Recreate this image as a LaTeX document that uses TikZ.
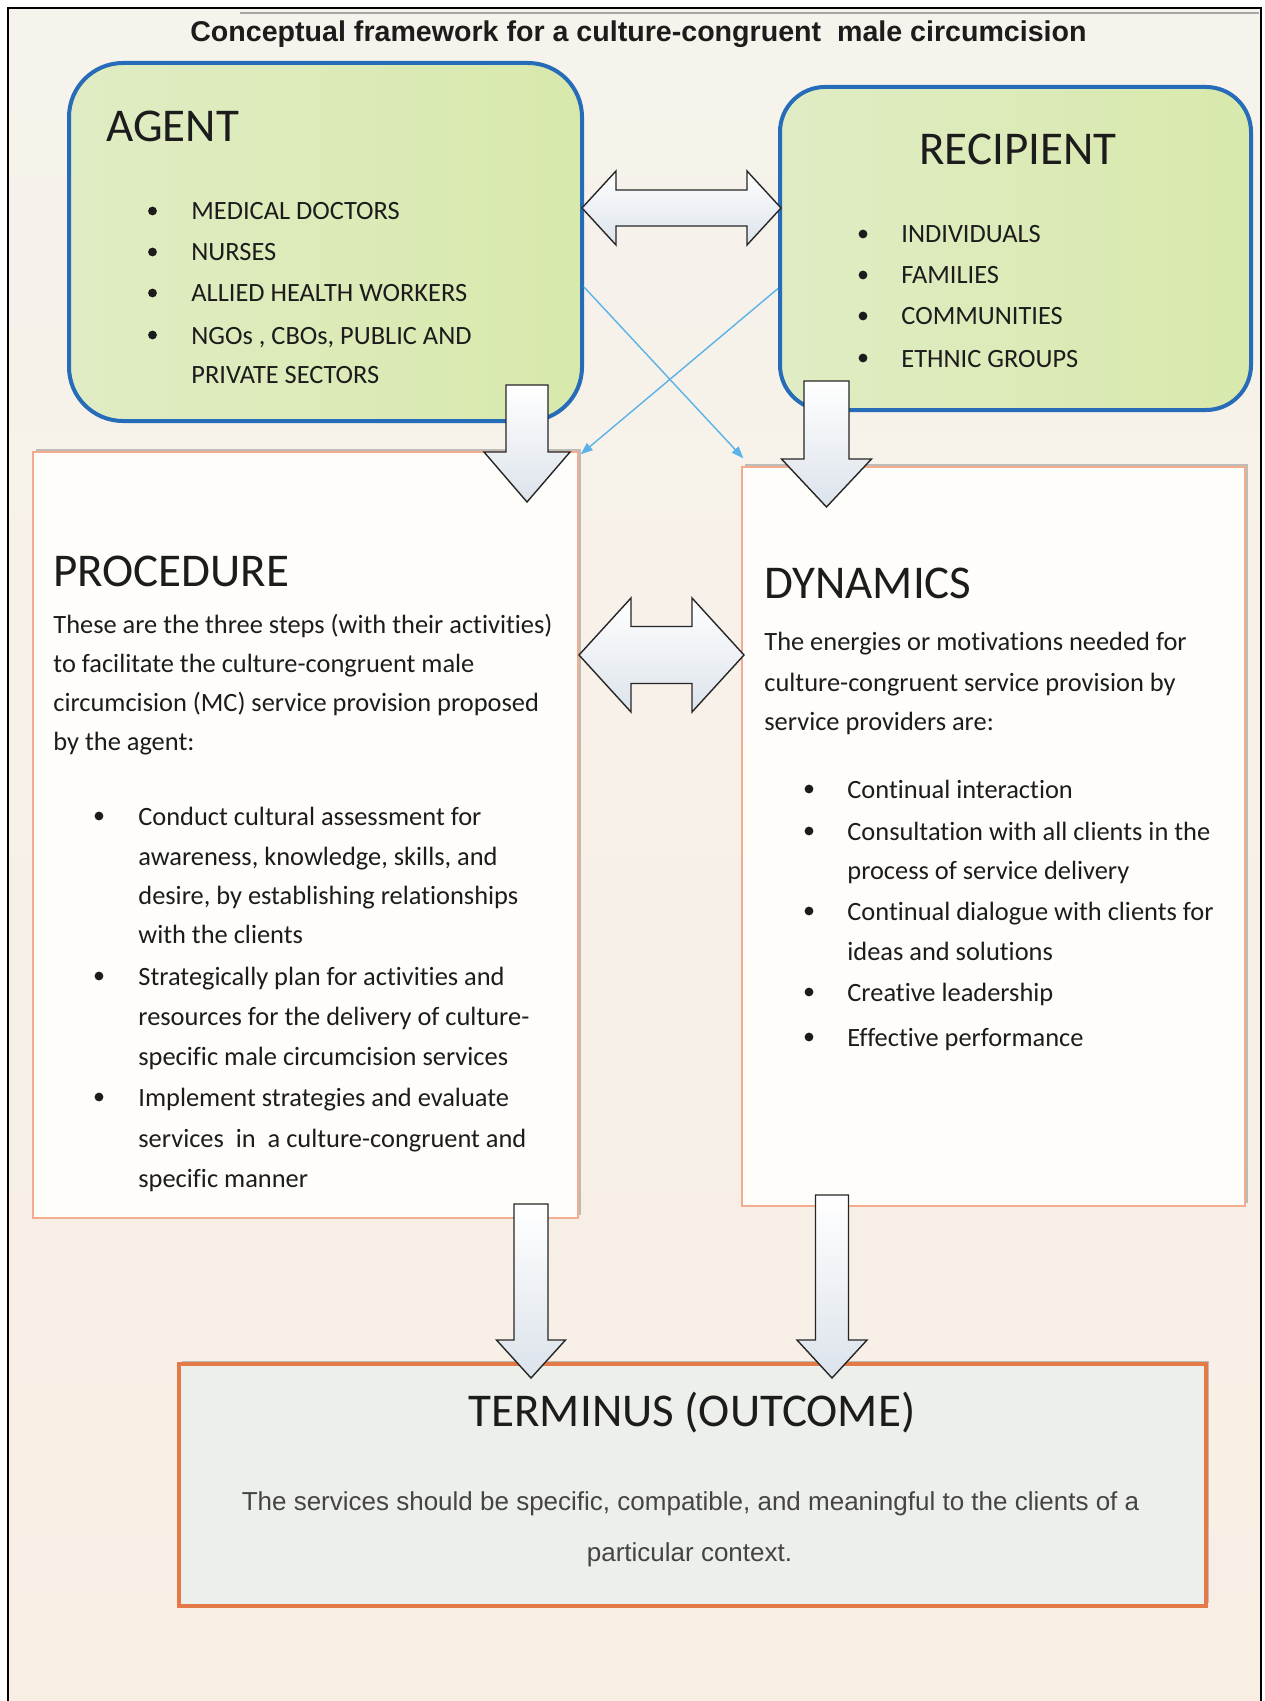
\documentclass[tikz,border=0pt]{standalone}
\usepackage{fontspec}
\setmainfont{Carlito}[Ligatures={NoCommon,NoContextual}, RawFeature=-calt]
\newfontfamily\arialfont{Liberation Sans}
\usetikzlibrary{arrows.meta,calc,shadows}

\definecolor{pagetop}{RGB}{246,243,236}
\definecolor{pagebot}{RGB}{248,238,228}
\definecolor{boxblue}{RGB}{38,108,184}
\definecolor{greenL}{RGB}{224,236,196}
\definecolor{greenR}{RGB}{216,233,172}
\definecolor{salmon}{RGB}{243,172,142}
\definecolor{outorange}{RGB}{228,122,72}
\definecolor{termfill}{RGB}{237,240,234}
\definecolor{paperwhite}{RGB}{254,253,250}
\definecolor{arrowtint}{RGB}{220,227,235}
\definecolor{linkblue}{RGB}{90,178,232}
\definecolor{ink}{RGB}{28,28,28}
\definecolor{greyink}{RGB}{68,68,68}

\newcommand\bodysize{\fontsize{13.2pt}{20pt}\selectfont}
\newcommand\headsize{\fontsize{23.5pt}{28pt}\selectfont}
% keeps "t" and "i" as separate glyphs
\newcommand\tsep{t\kern0pt i}

% block arrow pointing down: centre x, shaft top, shaft half width, head top, head half width, tip
\newcommand{\blockdown}[6]{%
  \path[blockarrow] (#1-#3,#2) -- (#1+#3,#2) -- (#1+#3,#4) -- (#1+#5,#4)
    -- (#1,#6) -- (#1-#5,#4) -- (#1-#3,#4) -- cycle;}
% horizontal two-headed block arrow: left tip, right tip, centre y, shaft half, head half, head length
\newcommand{\blockdouble}[6]{%
  \path[blockarrow] (#1,#3) -- (#1+#6,#3-#5) -- (#1+#6,#3-#4) -- (#2-#6,#3-#4)
    -- (#2-#6,#3-#5) -- (#2,#3) -- (#2-#6,#3+#5) -- (#2-#6,#3+#4)
    -- (#1+#6,#3+#4) -- (#1+#6,#3+#5) -- cycle;}

\begin{document}
\begin{tikzpicture}[x=0.5pt,y=-0.5pt,
  greenbox/.style={draw=boxblue, line width=2pt, left color=greenL, right color=greenR, inner sep=0pt},
  whitebox/.style={draw=salmon, line width=0.7pt, fill=paperwhite, inner sep=0pt,
    drop shadow={shadow xshift=1.5pt, shadow yshift=1.5pt, fill=black!40, opacity=0.6}},
  outbox/.style={draw=outorange, line width=1.8pt, fill=termfill, inner sep=0pt,
    drop shadow={shadow xshift=1.5pt, shadow yshift=1.5pt, fill=black!40, opacity=0.6}},
  hd/.style={font=\headsize, text=ink, anchor=base west, inner sep=0pt},
  bd/.style={font=\bodysize, text=ink, anchor=base west, inner sep=0pt},
  link/.style={draw=linkblue, line width=0.7pt, -{Triangle[length=6pt,width=4.5pt]}},
  blockarrow/.style={draw=black!85, line width=0.7pt, line join=miter, top color=white, bottom color=arrowtint}]

\useasboundingbox (0,0) rectangle (1264,1701);
\fill[white] (0,0) rectangle (1264,1701);
\shade[top color=pagetop, bottom color=pagebot] (7.5,8) rectangle (1261,1701);
\draw[black!35, line width=0.8pt] (240,13) -- (1259,13);
\draw[black, line width=1pt] (7.5,1701) -- (7.5,8) -- (1261,8) -- (1261,1701);

% title
\node[font=\arialfont\bfseries\fontsize{14.3pt}{17pt}\selectfont, text=ink, anchor=base, inner sep=0pt]
  (title) at (638.5,41.5) {Conceptual framework for a culture-congruent\ \ male circumcision};

% boxes
\node[greenbox, rounded corners=27pt, minimum width=256.5pt, minimum height=179pt] (agent) at (325.5,242) {};
\node[greenbox, rounded corners=22.5pt, minimum width=235.5pt, minimum height=161.5pt] (recip) at (1015.5,248.5) {};
\node[whitebox, minimum width=272.5pt, minimum height=383pt] (proc) at (305.5,835) {};
\node[whitebox, minimum width=251.5pt, minimum height=369.5pt] (dyn) at (993.5,836.5) {};
\node[outbox, minimum width=513.5pt, minimum height=121pt] (term) at (692.5,1485) {};

% agent
\node[hd] (agentT) at (106,142) {AGENT};
\node[bd] (a1) at (191,220) {MEDICAL DOCTORS};
\node[bd] (a2) at (191,261) {NURSES};
\node[bd] (a3) at (191,302) {ALLIED HEALTH WORKERS};
\node[bd] (a4) at (191,344) {NGOs , CBOs, PUBLIC AND};
\node[bd] (a4b) at (191,383) {PRIVATE SECTORS};
\foreach \yy in {211,252,293,335} \fill[ink] (152.5,\yy) circle[radius=2.2pt];

% recipient
\node[hd] (recipT) at (919,165) {RECIPIENT};
\node[bd] (r1) at (901,243) {INDIVIDUALS};
\node[bd] (r2) at (901,284) {FAMILIES};
\node[bd] (r3) at (901,325) {COMMUNITIES};
\node[bd] (r4) at (901,367) {ETHNIC GROUPS};
\foreach \yy in {234,275,316,358} \fill[ink] (863,\yy) circle[radius=2.2pt];

% procedure
\node[hd] (procT) at (53,586) {PROCEDURE};
\node[bd] (p0a) at (53,633) {These are the three steps (with their ac\tsep vi\tsep es)};
\node[bd] (p0b) at (53,672) {to facilitate the culture-congruent male};
\node[bd] (p0c) at (53,711) {circumcision (MC) service provision proposed};
\node[bd] (p0d) at (53,750) {by the agent:};
\node[bd] (p1a) at (138,825) {Conduct cultural assessment for};
\node[bd] (p1b) at (138,865) {awareness, knowledge, skills, and};
\node[bd] (p1c) at (138,904) {desire, by establishing rela\tsep onships};
\node[bd] (p1d) at (138,943) {with the clients};
\node[bd] (p2a) at (138,985) {Strategically plan for ac\tsep vi\tsep es and};
\node[bd] (p2b) at (138,1025) {resources for the delivery of culture-};
\node[bd] (p2c) at (138,1065) {specific male circumcision services};
\node[bd] (p3a) at (138,1106) {Implement strategies and evaluate};
\node[bd] (p3b) at (138,1147) {services\ \ in\ \ a culture-congruent and};
\node[bd] (p3c) at (138,1187) {specific manner};
\foreach \yy in {816,976,1097} \fill[ink] (99,\yy) circle[radius=2.2pt];

% dynamics
\node[hd] (dynT) at (764,598) {DYNAMICS};
\node[bd] (d0a) at (764,650) {The energies or mo\tsep va\tsep ons needed for};
\node[bd] (d0b) at (764,691) {culture-congruent service provision by};
\node[bd] (d0c) at (764,730) {service providers are:};
\node[bd] (d1) at (847,798) {Con\tsep nual interac\tsep on};
\node[bd] (d2a) at (847,840) {Consulta\tsep on with all clients in the};
\node[bd] (d2b) at (847,879) {process of service delivery};
\node[bd] (d3a) at (847,920) {Con\tsep nual dialogue with clients for};
\node[bd] (d3b) at (847,960) {ideas and solu\tsep ons};
\node[bd] (d4) at (847,1001) {Crea\tsep ve leadership};
\node[bd] (d5) at (847,1046) {Effec\tsep ve performance};
\foreach \yy in {789,831,911,992,1037} \fill[ink] (809,\yy) circle[radius=2.2pt];

% terminus
\node[hd, anchor=base] (termT) at (692,1426) {TERMINUS (OUTCOME)};
\node[font=\arialfont\fontsize{13pt}{16pt}\selectfont, text=greyink, anchor=base, inner sep=0pt]
  (t1) at (690.5,1510) {The services should be specific, compatible, and meaningful to the clients of a};
\node[font=\arialfont\fontsize{13pt}{16pt}\selectfont, text=greyink, anchor=base, inner sep=0pt]
  (t2) at (689.5,1561) {particular context.};

% block arrows
\blockdouble{582}{781}{208}{18}{37}{34}
\blockdouble{579}{744}{655}{28.5}{57}{52}
\blockdown{527}{385}{21}{452}{43}{502}
\blockdown{826.5}{381}{22.5}{459}{45}{507}
\blockdown{531}{1204}{17}{1340}{34.5}{1378}
\blockdown{832}{1195}{16.5}{1340}{35}{1378}

% crossing links
\draw[link] ($(agent.east)+(0,45)$) -- ($(dyn.north west)+(2,-8)$);
\draw[link] ($(recip.west)+(0,40)$) -- ($(proc.north east)+(2,3)$);
\end{tikzpicture}
\end{document}
